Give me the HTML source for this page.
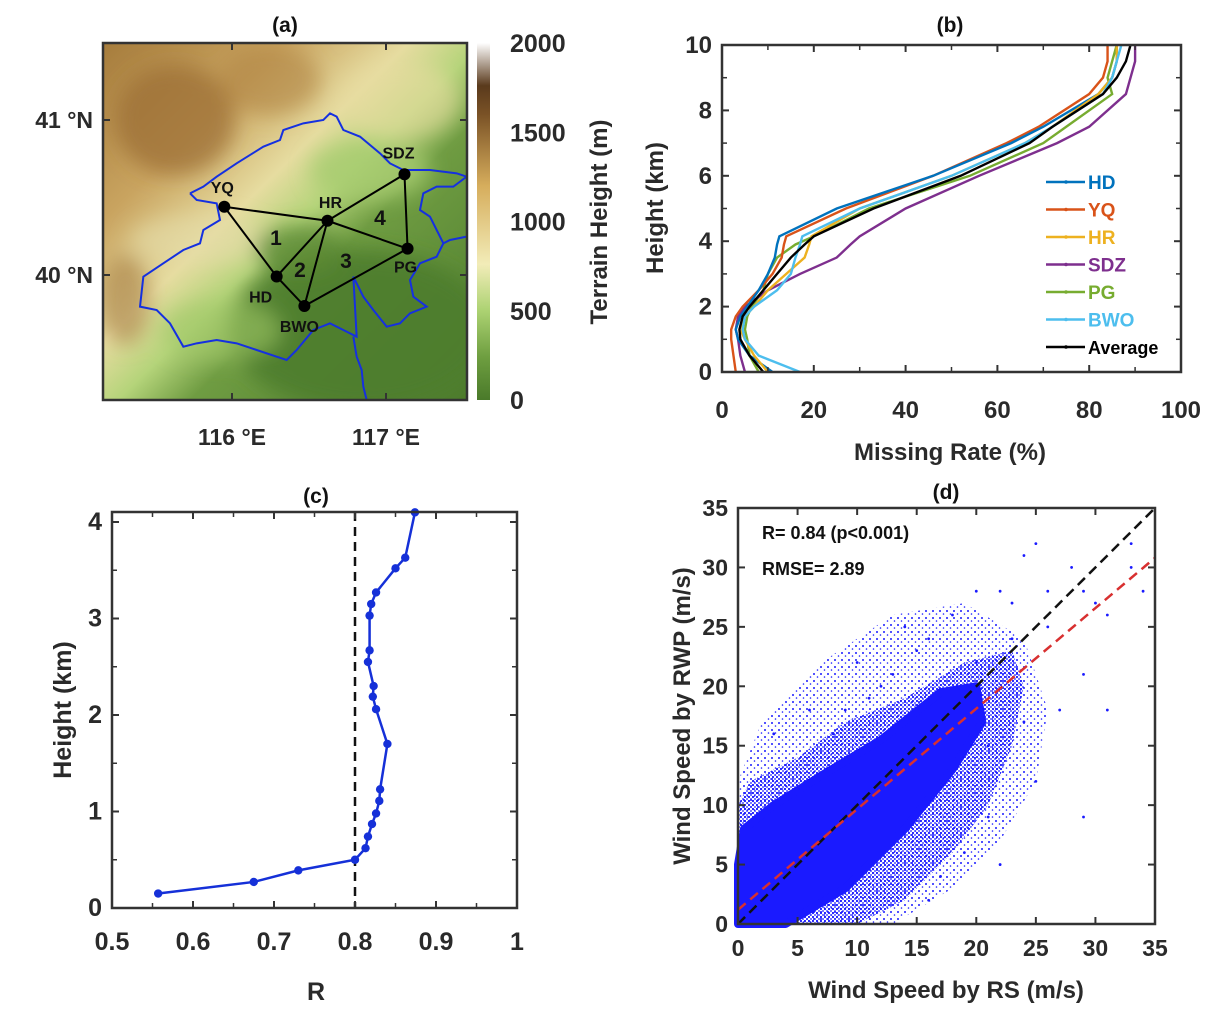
<!DOCTYPE html>
<html><head><meta charset="utf-8"><style>
html,body{margin:0;padding:0;background:#fff;}
svg{display:block;font-family:"Liberation Sans",sans-serif;font-weight:bold;}
</style></head><body>
<svg id="fig" width="1220" height="1020" viewBox="0 0 1220 1020">
<defs>
<linearGradient id="terr" x1="0" y1="0" x2="1" y2="1">
<stop offset="0" stop-color="#a67c3c"/><stop offset="0.25" stop-color="#c9a460"/><stop offset="0.42" stop-color="#e6dca0"/>
<stop offset="0.52" stop-color="#b5d47a"/><stop offset="0.62" stop-color="#6f9c42"/><stop offset="1" stop-color="#4c7b2c"/>
</linearGradient>
<linearGradient id="cbar" x1="0" y1="1" x2="0" y2="0">
<stop offset="0" stop-color="#4a7a2a"/><stop offset="0.12" stop-color="#6e9e40"/><stop offset="0.25" stop-color="#acd272"/>
<stop offset="0.38" stop-color="#f2ecb8"/><stop offset="0.6" stop-color="#d6ad5c"/><stop offset="0.8" stop-color="#7a5226"/>
<stop offset="0.88" stop-color="#5a3a1c"/><stop offset="1" stop-color="#ffffff"/>
</linearGradient>
<filter id="blur"><feGaussianBlur stdDeviation="10"/></filter>
<clipPath id="mapclip"><rect x="103" y="43" width="364" height="357"/></clipPath>
<pattern id="halo" width="4" height="4" patternUnits="userSpaceOnUse"><circle cx="1" cy="1" r="1.1" fill="#1a1aff"/><circle cx="3" cy="3" r="0.9" fill="#1a1aff"/></pattern>
<pattern id="halo2" width="7" height="7" patternUnits="userSpaceOnUse"><circle cx="2" cy="2" r="1" fill="#1a1aff"/><circle cx="5.5" cy="5" r="0.8" fill="#1a1aff"/></pattern>
</defs>
<g id="pa"></g>
<g id="pb"></g>
<g id="pc"></g>
<g id="pd"></g>
</svg>
<script>
// ---------- Panel (a) data ----------
const stationNames=["YQ","HR","SDZ","PG","HD","BWO"];
const stationLon=[115.95,116.62,117.12,117.14,116.29,116.47];
const stationLat=[40.44,40.35,40.65,40.17,39.99,39.80];
const cbTicks=[0,500,1000,1500,2000];
const lonTicks=[116,117];
const latTicks=[40,41];
// ---------- Panel (b) data ----------
const bHeights=[0,0.5,1,1.3,1.7,2,2.5,3,3.5,3.9,4.15,5,6,7,7.5,8.5,9,9.5,10];
const bNames=["HD","YQ","HR","SDZ","PG","BWO","Average"];
const bHD=[11,6,3.5,3,4,5.5,8,10,11.5,12,12.5,25,46,63,70,82,85,86,86];
const bYQ=[3,2.5,2,2,3,4.5,8,11,13,13.5,14,27,46,62,69,80,83,84,84];
const bHR=[10,7,5,4,5,7,10,14,18,19,19.5,30,50,66,72,82,85,86,86];
const bSDZ=[5,4,3.5,3,3.5,5,10,17,25,28,30,40,56,73,80,88,89,90,90];
const bPG=[8,6,5.5,5,5.5,6.5,9,10,12,16,20,32,54,70,75,85,84,85,86];
const bBWO=[17,8,5,4.5,5,7,12,15,16,17,17.5,30,50,66,72,83,85,86,87];
const bAVG=[9,6,4,3.8,4.5,6,9,12,15,18,20,33,52,67,72,83,86,88,89];
const bXTicks=[0,20,40,60,80,100];
const bYTicks=[0,2,4,6,8,10];
// ---------- Panel (c) data ----------
const cR=[0.557,0.675,0.73,0.80,0.813,0.816,0.821,0.826,0.83,0.831,0.84,0.826,0.822,0.823,0.816,0.818,0.818,0.82,0.826,0.85,0.862,0.874];
const cH=[0.15,0.27,0.39,0.5,0.62,0.74,0.87,0.98,1.11,1.23,1.7,2.06,2.19,2.3,2.55,2.67,3.03,3.15,3.27,3.52,3.63,4.1];
const cXTicks=[0.5,0.6,0.7,0.8,0.9,1];
const cYTicks=[0,1,2,3,4];
const cThreshold=0.8;
// ---------- Panel (d) data ----------
const dCoreX=[0,4,9,14,18,20.5,20,17,12,7,3,0.5,0];
const dCoreY=[0,0,3,8,13,17,20,19.5,15.5,12.5,10,8,5];
const dHaloX=[0,10,14,18,21,23,24,23,19,14,9,5,1,0];
const dHaloY=[0,0,2,6,10,15,20,23,22,19,17,14,12,10];
const dOuterX=[0,13,18,22,25,26,24,19,13,7,2,0];
const dOuterY=[0,0,3,7,12,18,24,27,26,22,17,12];
const dOutX=[12,16,14,18,20,22,24,25,23,26,28,29,31,33,30,31,27,19,17,21,25,29,15,13,11,9,8,20,23,26,33,34,21,24,29,10,6,3,16,22];
const dOutY=[20,24,25,26,28,28,31,32,27,28,30,28,26,30,27,18,18,6,4,9,12,9,23,21,19,18,16,22,24,25,32,28,15,17,21,22,18,16,2,5];
const dXTicks=[0,5,10,15,20,25,30,35];
const dYTicks=[0,5,10,15,20,25,30,35];
const dFitSlope=0.846, dFitIntercept=1.2;

const NS="http://www.w3.org/2000/svg";
function mk(parent,tag,attrs,text){const e=document.createElementNS(NS,tag);for(const k in attrs)e.setAttribute(k,attrs[k]);if(text!==undefined)e.textContent=text;parent.appendChild(e);return e;}
function lin(d0,d1,r0,r1){return v=>r0+(v-d0)/(d1-d0)*(r1-r0);}

function frame(g,L,T,R,B,xs,ys,xt,yt,xlabFmt,ylabFmt,fs,labelX,labelY,xoff){
  xoff=xoff||34;
  for(const v of xt){const x=xs(v);
    const t1=mk(g,'line',{x1:x,y1:B,x2:x,y2:B-7,stroke:'#333','stroke-width':2});
    
    mk(g,'line',{x1:x,y1:T,x2:x,y2:T+7,stroke:'#333','stroke-width':2});
    if(labelX){const tl=mk(g,'text',{x:x,y:B+xoff,'text-anchor':'middle','font-size':fs,fill:'#2a2a2a'},xlabFmt(v));
    }
  }
  for(const v of yt){const y=ys(v);
    const t2=mk(g,'line',{x1:L,y1:y,x2:L+7,y2:y,stroke:'#333','stroke-width':2});
    
    mk(g,'line',{x1:R,y1:y,x2:R-7,y2:y,stroke:'#333','stroke-width':2});
    if(labelY){const tl=mk(g,'text',{x:L-10,y:y+8,'text-anchor':'end','font-size':fs,fill:'#2a2a2a'},ylabFmt(v));
    }
  }
  const f=mk(g,'rect',{x:L,y:T,width:R-L,height:B-T,fill:'none',stroke:'#333','stroke-width':2.5});
  
}

// ===== Panel A =====
(function(){
 const g=document.getElementById('pa');
 const L=103,T=43,R=467,B=400;
 const xs=lin(116,117,232,386), ys=lin(40,41,275,120);
 const m=mk(g,'g',{'clip-path':'url(#mapclip)'});
 
 mk(m,'rect',{x:L,y:T,width:R-L,height:B-T,fill:'url(#terr)'});
 const blobs=mk(m,'g',{filter:'url(#blur)'});
 mk(blobs,'ellipse',{cx:175,cy:120,rx:60,ry:55,fill:'#9a6c34',opacity:0.7});
 mk(blobs,'ellipse',{cx:270,cy:80,rx:50,ry:35,fill:'#b08644',opacity:0.6});
 mk(blobs,'ellipse',{cx:125,cy:300,rx:25,ry:45,fill:'#a67e42',opacity:0.6});
 mk(blobs,'ellipse',{cx:200,cy:240,rx:70,ry:25,fill:'#e4dca8',opacity:0.6});
 mk(blobs,'ellipse',{cx:400,cy:100,rx:60,ry:40,fill:'#e8dca0',opacity:0.6});
 mk(blobs,'ellipse',{cx:370,cy:170,rx:60,ry:30,fill:'#a8cc70',opacity:0.8});
 mk(blobs,'ellipse',{cx:360,cy:330,rx:130,ry:80,fill:'#4e7d2c',opacity:0.9});
 mk(blobs,'ellipse',{cx:300,cy:250,rx:45,ry:25,fill:'#5b8a34',opacity:0.8});
 mk(blobs,'ellipse',{cx:220,cy:330,rx:60,ry:30,fill:'#a0c868',opacity:0.6});
 const bnd=[[300,490],[340,470],[380,440],[440,400],[520,350],[570,330],[580,300],[640,280],[700,270],[720,250],[740,260],[760,300],[810,320],[870,370],[900,400],[940,420],[1020,420],[1100,430],[1130,440],[1090,470],[1040,470],[1000,490],[990,540],[1020,560],[1040,600],[1060,640],[1040,680],[990,700],[960,750],[970,800],[1010,830],[960,850],[930,880],[890,890],[850,840],[820,800],[790,740],[800,920],[760,900],[720,880],[670,900],[620,960],[590,990],[560,980],[500,960],[440,940],[380,930],[320,940],[280,950],[240,880],[200,840],[150,830],[160,740],[220,700],[280,660],[330,640],[340,600],[390,570],[380,520],[320,510],[300,490]];
 const p=mk(m,'path',{d:'M'+bnd.map(q=>(90+q[0]/3)+','+(30+q[1]/3)).join('L'),fill:'none',stroke:'#1530e0','stroke-width':2});
 
 const riv=[[790,920],[800,980],[815,1020],[820,1070],[830,1110]];
 mk(m,'path',{d:'M'+riv.map(q=>(90+q[0]/3)+','+(30+q[1]/3)).join('L'),fill:'none',stroke:'#1530e0','stroke-width':2});
 const riv2=[[1130,620],[1080,630],[1060,640]];
 mk(m,'path',{d:'M'+riv2.map(q=>(90+q[0]/3)+','+(30+q[1]/3)).join('L'),fill:'none',stroke:'#1530e0','stroke-width':2});
 const edges=[[0,1],[0,4],[4,1],[4,5],[5,1],[1,2],[1,3],[2,3],[5,3]];
 for(const e of edges){const l=mk(g,'line',{x1:xs(stationLon[e[0]]),y1:ys(stationLat[e[0]]),x2:xs(stationLon[e[1]]),y2:ys(stationLat[e[1]]),stroke:'#000','stroke-width':2});
  }
 const off=[[-2,-14],[3,-13],[-6,-16],[-2,24],[-16,26],[-5,26]];
 stationNames.forEach((n,i)=>{const x=xs(stationLon[i]),y=ys(stationLat[i]);
  const c=mk(g,'circle',{cx:x,cy:y,r:6,fill:'#000'});
  
  const t=mk(g,'text',{x:x+off[i][0],y:y+off[i][1],'text-anchor':'middle','font-size':16,fill:'#111'},n);
  });
 const regs=[["1",276,245],["2",300,277],["3",346,268],["4",380,225]];
 for(const r of regs){const t=mk(g,'text',{x:r[1],y:r[2],'text-anchor':'middle','font-size':21,fill:'#111'},r[0]);
  }
 frame(g,L,T,R,B,xs,ys,lonTicks,latTicks,v=>v+' °E',v=>v+' °N',23,false,true);
 lonTicks.forEach(v=>{const t=mk(g,'text',{x:xs(v),y:445,'text-anchor':'middle','font-size':23,fill:'#2a2a2a'},v+' °E');
  });
 const cb=mk(g,'rect',{x:477,y:43,width:13,height:357,fill:'url(#cbar)'});
 
 const cs=lin(0,2000,400,43);
 for(const v of cbTicks){const t=mk(g,'text',{x:510,y:cs(v)+9,'font-size':25,fill:'#2a2a2a'},v);
  }
 const yl=mk(g,'text',{x:0,y:0,transform:'translate(607,222) rotate(-90)','text-anchor':'middle','font-size':24,fill:'#2a2a2a'},'Terrain Height (m)');
 
 const tt=mk(g,'text',{x:285,y:32,'text-anchor':'middle','font-size':21,fill:'#111'},'(a)');
 
})();

// ===== Panel B =====
(function(){
 const g=document.getElementById('pb');
 const L=722,T=45,R=1181,B=372;
 const xs=lin(0,100,L,R), ys=lin(0,10,B,T);
 const series=[bHD,bYQ,bHR,bSDZ,bPG,bBWO,bAVG];
 const cols=['#0072BD','#D95319','#EDB120','#7E2F8E','#77AC30','#4DBEEE','#000000'];
 const order=[4,3,1,0,2,5,6];
 for(const i of order){const d=series[i].map((v,k)=>xs(v)+','+ys(bHeights[k])).join(' ');
  const pl=mk(g,'polyline',{points:d,fill:'none',stroke:cols[i],'stroke-width':2.4});
  }
 for(const v of [10,30,50,70,90]){mk(g,'line',{x1:xs(v),y1:B,x2:xs(v),y2:B-5,stroke:'#333','stroke-width':1.5});mk(g,'line',{x1:xs(v),y1:T,x2:xs(v),y2:T+5,stroke:'#333','stroke-width':1.5});}
 for(const v of [1,3,5,7,9]){mk(g,'line',{x1:L,y1:ys(v),x2:L+5,y2:ys(v),stroke:'#333','stroke-width':1.5});mk(g,'line',{x1:R,y1:ys(v),x2:R-5,y2:ys(v),stroke:'#333','stroke-width':1.5});}
 frame(g,L,T,R,B,xs,ys,bXTicks,bYTicks,v=>v,v=>v,24,true,true,46);
 bNames.forEach((n,i)=>{const y=182+i*27.5;
  const le=mk(g,'g',{});
  mk(le,'line',{x1:1046,y1:y,x2:1085,y2:y,stroke:cols[i],'stroke-width':2.5});
  mk(le,'circle',{cx:1066,cy:y,r:1.8,fill:cols[i]});
  mk(le,'text',{x:1088,y:y+7,'font-size':i==6?18:19,fill:cols[i]},n);});
 const xl=mk(g,'text',{x:950,y:460,'text-anchor':'middle','font-size':24,fill:'#2a2a2a'},'Missing Rate (%)');
 
 const yl=mk(g,'text',{x:0,y:0,transform:'translate(663,208) rotate(-90)','text-anchor':'middle','font-size':24,fill:'#2a2a2a'},'Height (km)');
 
 const tt=mk(g,'text',{x:950,y:32,'text-anchor':'middle','font-size':21,fill:'#111'},'(b)');
 
})();

// ===== Panel C =====
(function(){
 const g=document.getElementById('pc');
 const L=112,T=512,R=517,B=908;
 const xs=lin(0.5,1,L,R), ys=lin(0,4,B,522);
 for(const v of [0.55,0.65,0.75,0.85,0.95]){mk(g,'line',{x1:xs(v),y1:B,x2:xs(v),y2:B-5,stroke:'#333','stroke-width':1.5});mk(g,'line',{x1:xs(v),y1:T,x2:xs(v),y2:T+5,stroke:'#333','stroke-width':1.5});}
 for(const v of [0.5,1.5,2.5,3.5]){mk(g,'line',{x1:L,y1:ys(v),x2:L+5,y2:ys(v),stroke:'#333','stroke-width':1.5});mk(g,'line',{x1:R,y1:ys(v),x2:R-5,y2:ys(v),stroke:'#333','stroke-width':1.5});}
 const th=mk(g,'line',{x1:xs(cThreshold),y1:T,x2:xs(cThreshold),y2:B,stroke:'#111','stroke-width':2.5,'stroke-dasharray':'9,6'});
 
 const pl=mk(g,'polyline',{points:cR.map((v,k)=>xs(v)+','+ys(cH[k])).join(' '),fill:'none',stroke:'#1530d8','stroke-width':2.5});
 
 cR.forEach((v,k)=>{const c=mk(g,'circle',{cx:xs(v),cy:ys(cH[k]),r:4.2,fill:'#1530d8'});
  });
 frame(g,L,T,R,B,xs,ys,cXTicks,cYTicks,v=>v,v=>v,25,true,true,42);
 const xl=mk(g,'text',{x:316,y:1000,'text-anchor':'middle','font-size':25,fill:'#2a2a2a'},'R');
 
 const yl=mk(g,'text',{x:0,y:0,transform:'translate(71,710) rotate(-90)','text-anchor':'middle','font-size':25,fill:'#2a2a2a'},'Height (km)');
 
 const tt=mk(g,'text',{x:316,y:503,'text-anchor':'middle','font-size':21,fill:'#111'},'(c)');
 
})();

// ===== Panel D =====
(function(){
 const g=document.getElementById('pd');
 const L=738,T=508,R=1155,B=924;
 const xs=lin(0,35,L,R), ys=lin(0,35,B,T);
 const outer=mk(g,'polygon',{points:dOuterX.map((v,k)=>xs(v)+','+ys(dOuterY[k])).join(' '),fill:'url(#halo2)'});
 
 const halo=mk(g,'polygon',{points:dHaloX.map((v,k)=>xs(v)+','+ys(dHaloY[k])).join(' '),fill:'url(#halo)'});
 
 const core=mk(g,'polygon',{points:dCoreX.map((v,k)=>xs(v)+','+ys(dCoreY[k])).join(' '),fill:'#1a1aff','stroke':'#1a1aff','stroke-width':8,'stroke-linejoin':'round'});
 
 dOutX.forEach((v,k)=>{const c=mk(g,'circle',{cx:xs(v),cy:ys(dOutY[k]),r:1.4,fill:'#1a1aff'});
  });
 const one=mk(g,'line',{x1:xs(0),y1:ys(0),x2:xs(35),y2:ys(35),stroke:'#111','stroke-width':2.5,'stroke-dasharray':'10,6'});
 
 const fit=mk(g,'line',{x1:xs(0),y1:ys(dFitIntercept),x2:xs(35),y2:ys(dFitIntercept+35*dFitSlope),stroke:'#d83030','stroke-width':2.5,'stroke-dasharray':'10,6'});
 
 frame(g,L,T,R,B,xs,ys,dXTicks,dYTicks,v=>v,v=>v,23,true,true,32);
 const a=mk(g,'text',{x:762,y:539,'font-size':18,fill:'#111'},'R= 0.84 (p<0.001)');
 
 const b=mk(g,'text',{x:762,y:575,'font-size':18,fill:'#111'},'RMSE= 2.89');
 
 const xl=mk(g,'text',{x:946,y:998,'text-anchor':'middle','font-size':24,fill:'#2a2a2a'},'Wind Speed by RS (m/s)');
 
 const yl=mk(g,'text',{x:0,y:0,transform:'translate(690,716) rotate(-90)','text-anchor':'middle','font-size':24,fill:'#2a2a2a'},'Wind Speed by RWP (m/s)');
 
 const tt=mk(g,'text',{x:946,y:499,'text-anchor':'middle','font-size':21,fill:'#111'},'(d)');
 
})();
</script>
</body></html>
